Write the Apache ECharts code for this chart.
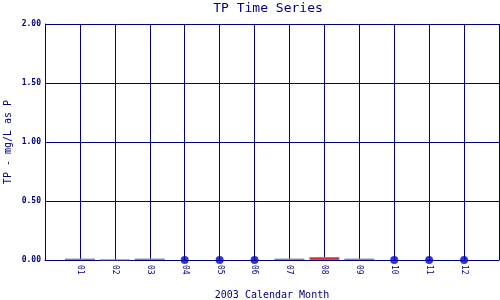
<!DOCTYPE html>
<html><head><meta charset="utf-8">
<script src="https://cdn.jsdelivr.net/npm/echarts@6/dist/echarts.min.js"></script>
<style>html,body{margin:0;padding:0;background:#fff}#c{width:500px;height:300px}</style>
</head><body><div id="c"></div>
<script>
var monthLabels = ['01','02','03','04','05','06','07','08','09','10','11','12'];
// box-type samples (month index, low, high, median)
var boxMonths = [1, 2, 3, 7, 8, 9];
var boxLow    = [0, 0, 0, 0, 0, 0];
var boxHigh   = [0.012, 0.006, 0.012, 0.012, 0.025, 0.012];
var boxMedian = [null, null, null, null, 0.01, null];
// single-value samples (month index, value)
var dotMonths = [4, 5, 6, 10, 11, 12];
var dotValues = [0, 0, 0, 0, 0, 0];

var navy = '#000080';
var font = 'DejaVu Sans Mono';
var boxData = boxMonths.map(function(m, i){ return [m, boxLow[i], boxHigh[i], boxMedian[i] == null ? NaN : boxMedian[i]]; });
var dotData = dotMonths.map(function(m, i){ return [m, dotValues[i]]; });

var chart = echarts.init(document.getElementById('c'));
chart.setOption({
  animation: false,
  backgroundColor: '#fff',
  title: { text: 'TP Time Series', left: 268, top: 2, padding: 0, textAlign: 'center',
    textStyle: { fontFamily: font, fontSize: 13, fontWeight: 'normal', color: navy } },
  grid: { left: 45, right: 1, top: 24, bottom: 40, containLabel: false, outerBoundsMode: 'none' },
  xAxis: {
    type: 'value', min: 0, max: 13, interval: 1,
    name: '2003 Calendar Month', nameLocation: 'middle', nameGap: 30,
    nameTextStyle: { fontFamily: font, fontSize: 10, color: navy },
    axisLine: { show: true, lineStyle: { color: navy, width: 1 } },
    axisTick: { show: false },
    splitLine: { show: true, lineStyle: { color: navy, width: 1 } },
    axisLabel: { rotate: -90, margin: 5, fontFamily: font, fontSize: 8, color: navy,
      formatter: function(v){ return (v >= 1 && v <= 12) ? monthLabels[v-1] : ''; } }
  },
  yAxis: {
    type: 'value', min: 0, max: 2, interval: 0.5,
    name: 'TP - mg/L as P', nameLocation: 'middle', nameGap: 32, nameMoveOverlap: false,
    nameTextStyle: { fontFamily: font, fontSize: 10, color: navy },
    axisLine: { show: true, lineStyle: { color: navy, width: 1 } },
    axisTick: { show: false },
    splitLine: { show: true, lineStyle: { color: navy, width: 1 } },
    axisLabel: { margin: 4, fontFamily: font, fontSize: 8, fontWeight: 'bold', color: navy,
      formatter: function(v){ return v.toFixed(2); } }
  },
  series: [
    {
      type: 'custom',
      data: boxData,
      z: 5,
      renderItem: function(params, api){
        var m = api.value(0), lo = api.value(1), hi = api.value(2), md = api.value(3);
        var p1 = api.coord([m - 0.43, hi]);
        var p2 = api.coord([m + 0.43, lo]);
        var children = [{
          type: 'rect',
          shape: { x: p1[0], y: p1[1], width: p2[0] - p1[0], height: Math.max(p2[1] - p1[1], 1) },
          style: { fill: '#888888', stroke: null }
        }];
        if (!isNaN(md)) {
          var q = api.coord([m, md]);
          children.push({ type: 'line',
            shape: { x1: p1[0] + 1, y1: q[1], x2: p2[0] - 1, y2: q[1] },
            style: { stroke: '#ff0000', lineWidth: 1 } });
        }
        return { type: 'group', children: children };
      }
    },
    {
      type: 'scatter',
      data: dotData,
      symbol: 'circle',
      symbolSize: 8,
      z: 6,
      itemStyle: { color: '#0000c8' }
    }
  ]
});
</script></body></html>
